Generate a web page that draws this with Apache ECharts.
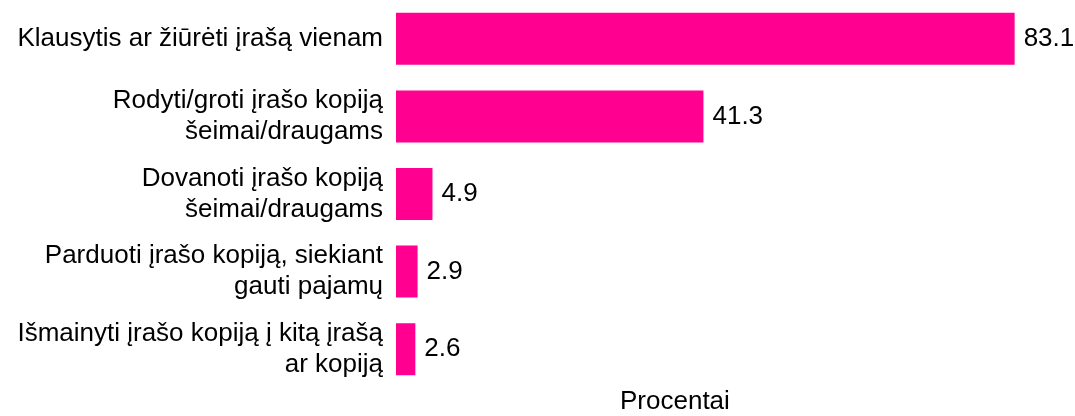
<!DOCTYPE html>
<html>
<head>
<meta charset="utf-8">
<script src="https://cdn.jsdelivr.net/npm/echarts@6/dist/echarts.min.js"></script>
<style>
  html, body { margin: 0; padding: 0; background: #fff; }
  #chart { width: 1075px; height: 416px; }
</style>
</head>
<body>
<div id="chart"></div>
<script>
const categories = [
  'Klausytis ar žiūrėti įrašą vienam',
  'Rodyti/groti įrašo kopiją\nšeimai/draugams',
  'Dovanoti įrašo kopiją\nšeimai/draugams',
  'Parduoti įrašo kopiją, siekiant\ngauti pajamų',
  'Išmainyti įrašo kopiją į kitą įrašą\nar kopiją'
];
const values = [83.1, 41.3, 4.9, 2.9, 2.6];
const axisName = 'Procentai';

const font = '"Liberation Sans", Arial, sans-serif';
const myChart = echarts.init(document.getElementById('chart'));

myChart.setOption({
  animation: false,
  grid: { left: 396, right: 9, top: 0, bottom: 28 },
  xAxis: {
    type: 'value',
    min: 0,
    max: 90,
    show: false
  },
  yAxis: {
    type: 'category',
    data: categories,
    inverse: true,
    axisLine: { show: false },
    axisTick: { show: false },
    axisLabel: {
      margin: 13,
      fontFamily: font,
      fontSize: 26,
      lineHeight: 31,
      color: '#000',
      align: 'right'
    }
  },
  graphic: [{
    type: 'text',
    left: 620,
    top: 389,
    style: { text: axisName, font: '26px ' + font, fill: '#000' }
  }],
  series: [{
    type: 'bar',
    data: values,
    barCategoryGap: '33%',
    itemStyle: { color: '#FF0090' },
    label: {
      show: true,
      position: 'right',
      distance: 9,
      fontFamily: font,
      fontSize: 26,
      color: '#000',
      formatter: p => p.value.toFixed(1)
    }
  }]
});
</script>
</body>
</html>
